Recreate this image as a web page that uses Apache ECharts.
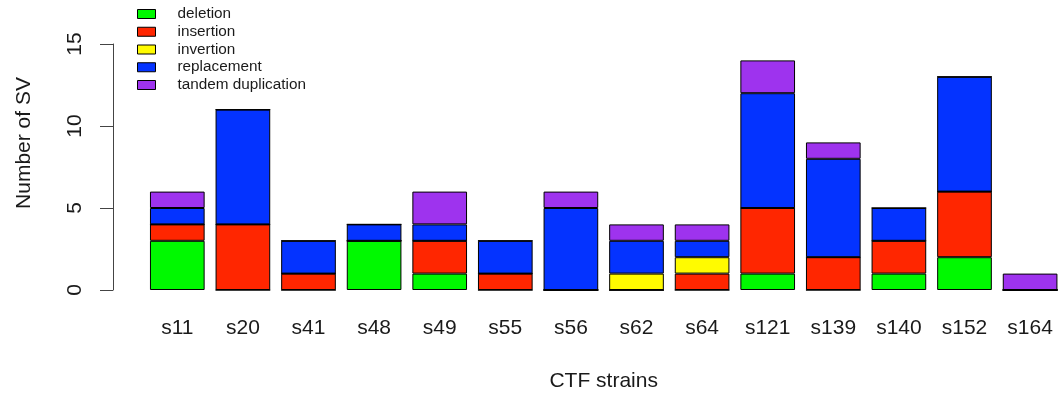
<!DOCTYPE html>
<html>
<head>
<meta charset="utf-8">
<script src="https://cdn.jsdelivr.net/npm/echarts@6/dist/echarts.min.js"></script>
<style>
  html, body { margin: 0; padding: 0; background: #fff; }
  #chart { width: 1059px; height: 396px; }
</style>
</head>
<body>
<div id="chart"></div>
<script>
const categories = ['s11','s20','s41','s48','s49','s55','s56','s62','s64','s121','s139','s140','s152','s164'];
const deletion    = [3,0,0,3,1,0,0,0,0,1,0,1,2,0];
const insertion   = [1,4,1,0,2,1,0,0,1,4,2,2,4,0];
const invertion   = [0,0,0,0,0,0,0,1,1,0,0,0,0,0];
const replacement = [1,7,2,1,1,2,5,2,1,7,6,2,7,0];
const tandem      = [1,0,0,0,2,0,1,1,1,2,1,0,0,1];
const yTicks = [0, 5, 10, 15];

const seriesDefs = [
  { name: 'deletion', data: deletion, color: '#00F900' },
  { name: 'insertion', data: insertion, color: '#FF2600' },
  { name: 'invertion', data: invertion, color: '#FFFB00' },
  { name: 'replacement', data: replacement, color: '#0433FF' },
  { name: 'tandem duplication', data: tandem, color: '#9E33EE' }
];

const FONT = '"Liberation Sans", Arial, Helvetica, sans-serif';
const chart = echarts.init(document.getElementById('chart'), null, { renderer: 'canvas' });

chart.setOption({
  animation: false,
  backgroundColor: '#ffffff',
  textStyle: { fontFamily: FONT, color: '#1a1a1a' },
  legend: {
    orient: 'vertical',
    left: 137,
    top: 6,
    padding: 0,
    itemWidth: 18,
    itemHeight: 9,
    itemGap: 1.75,
    icon: 'rect',
    selectedMode: false,
    itemStyle: { borderColor: '#000', borderWidth: 1 },
    textStyle: { fontFamily: FONT, fontSize: 15.3, lineHeight: 16, color: '#1a1a1a', padding: [0, 0, 0, 17] },
    data: seriesDefs.map(s => s.name)
  },
  grid: { left: 144.5, top: 44, width: 918.4, height: 246, containLabel: false, outerBoundsMode: 'none' },
  xAxis: {
    type: 'category',
    data: categories,
    name: 'CTF strains',
    nameLocation: 'middle',
    nameGap: 81,
    nameTextStyle: { fontFamily: FONT, fontSize: 21, color: '#1a1a1a' },
    axisLine: { show: false },
    axisTick: { show: false },
    axisLabel: { margin: 28, fontSize: 21, fontFamily: FONT, color: '#1a1a1a', interval: 0 },
    splitLine: { show: false }
  },
  yAxis: {
    type: 'value',
    min: yTicks[0],
    max: yTicks[yTicks.length - 1],
    interval: 5,
    offset: 31.5,
    name: 'Number of SV',
    nameLocation: 'middle',
    nameGap: 78,
    nameTextStyle: { fontFamily: FONT, fontSize: 21, color: '#1a1a1a', padding: [0, 0, 0, 48] },
    axisLine: { show: true, lineStyle: { color: '#444', width: 1 } },
    axisTick: { show: true, length: 13, lineStyle: { color: '#444', width: 1 } },
    axisLabel: { rotate: 90, margin: 27, fontSize: 21, fontFamily: FONT, color: '#1a1a1a' },
    splitLine: { show: false }
  },
  series: seriesDefs.map(s => ({
    name: s.name,
    type: 'bar',
    stack: 'sv',
    data: s.data,
    barCategoryGap: '16.67%',
    itemStyle: { color: s.color, borderColor: '#000', borderWidth: 1 },
    emphasis: { disabled: true }
  }))
});
</script>
</body>
</html>
